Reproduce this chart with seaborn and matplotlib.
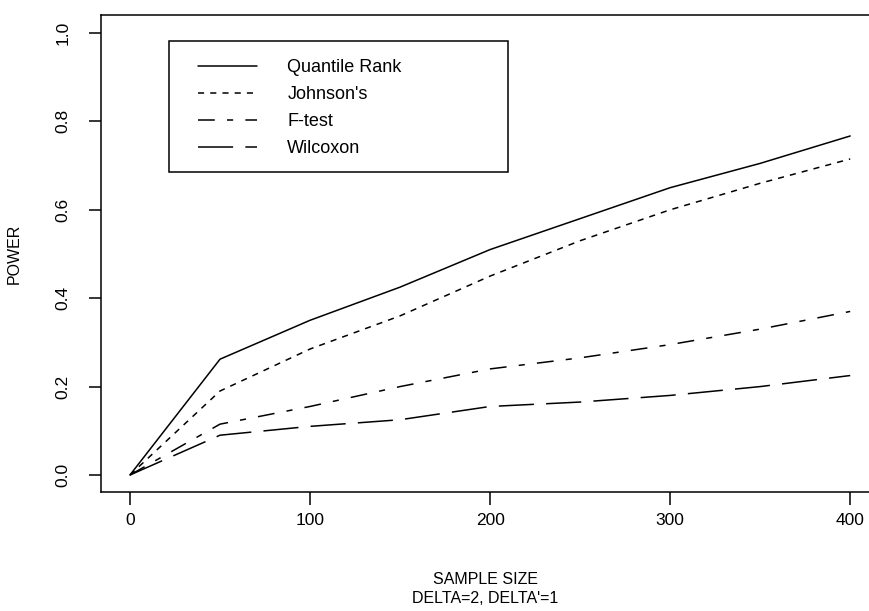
import numpy as np
import pandas as pd
import matplotlib
matplotlib.use("Agg")
import matplotlib.pyplot as plt
from matplotlib.patches import Rectangle
import seaborn as sns

sample_size = [0, 50, 100, 150, 200, 250, 300, 350, 400]
quantile_rank = [0.0, 0.262, 0.35, 0.425, 0.51, 0.58, 0.65, 0.705, 0.767]
johnsons = [0.0, 0.19, 0.285, 0.36, 0.45, 0.53, 0.60, 0.66, 0.715]
f_test = [0.0, 0.115, 0.155, 0.20, 0.24, 0.265, 0.295, 0.33, 0.37]
wilcoxon = [0.0, 0.09, 0.11, 0.125, 0.155, 0.165, 0.18, 0.20, 0.225]
series_names = ["Quantile Rank", "Johnson's", "F-test", "Wilcoxon"]
x_ticks = [0, 100, 200, 300, 400]
y_ticks = [0.0, 0.2, 0.4, 0.6, 0.8, 1.0]

rows = []
for name, vals in zip(series_names, [quantile_rank, johnsons, f_test, wilcoxon]):
    for x, v in zip(sample_size, vals):
        rows.append({"size": x, "power": v, "method": name})
df = pd.DataFrame(rows)

sns.set_style("ticks")
plt.rcParams['font.family'] = ['Liberation Sans', 'DejaVu Sans']
plt.rcParams['text.color'] = 'black'
plt.rcParams['axes.labelcolor'] = 'black'
plt.rcParams['xtick.color'] = 'black'
plt.rcParams['ytick.color'] = 'black'

fig = plt.figure(figsize=(8.7, 6.11), dpi=100)
ax = fig.add_axes([101 / 870, (611 - 492) / 611, 769 / 870, 477 / 611])

dashes = {
    "Quantile Rank": "",
    "Johnson's": (4, 4),
    "F-test": (11, 8, 4, 8),
    "Wilcoxon": (23, 8),
}
sns.lineplot(data=df, x="size", y="power", style="method", dashes=dashes,
             color="black", linewidth=1.1, ax=ax, legend=True)

ax.set_xlim(-16.1, 411)
ax.set_ylim(-0.0385, 1.0407)
ax.set_xticks(x_ticks)
ax.set_xticklabels([str(t) for t in x_ticks], fontsize=12.5,
                   family=['Liberation Sans Narrow', 'Liberation Sans'])
ax.set_yticks(y_ticks)
ax.set_yticklabels([f"{t:.1f}" for t in y_ticks], fontsize=12.5, rotation=90, va="center",
                   family=['Liberation Sans Narrow', 'Liberation Sans'])
ax.tick_params(axis="both", direction="out", length=9, width=1.1, color="black")
ax.tick_params(axis="x", pad=6)
ax.tick_params(axis="y", pad=13)
for s in ax.spines.values():
    s.set_color("black")
    s.set_linewidth(1.1)
ax.spines["right"].set_visible(False)

ax.set_xlabel("SAMPLE SIZE\nDELTA=2, DELTA'=1", fontsize=11.5, labelpad=32, linespacing=1.35)
ax.set_ylabel("POWER", fontsize=11.5, labelpad=24)

leg = ax.legend(loc="upper left", bbox_to_anchor=(0.126, 0.907), frameon=False,
                fontsize=13, handlelength=3.3, handletextpad=1.65, borderpad=0,
                labelspacing=0.55, borderaxespad=0)
for h in leg.get_lines():
    h.set_linewidth(1.1)
ax.add_patch(Rectangle((0.0884, 0.671), 0.441, 0.2746, transform=ax.transAxes,
                       fill=False, edgecolor="black", linewidth=1.1, zorder=5))

fig.savefig("out.png", dpi=100)
